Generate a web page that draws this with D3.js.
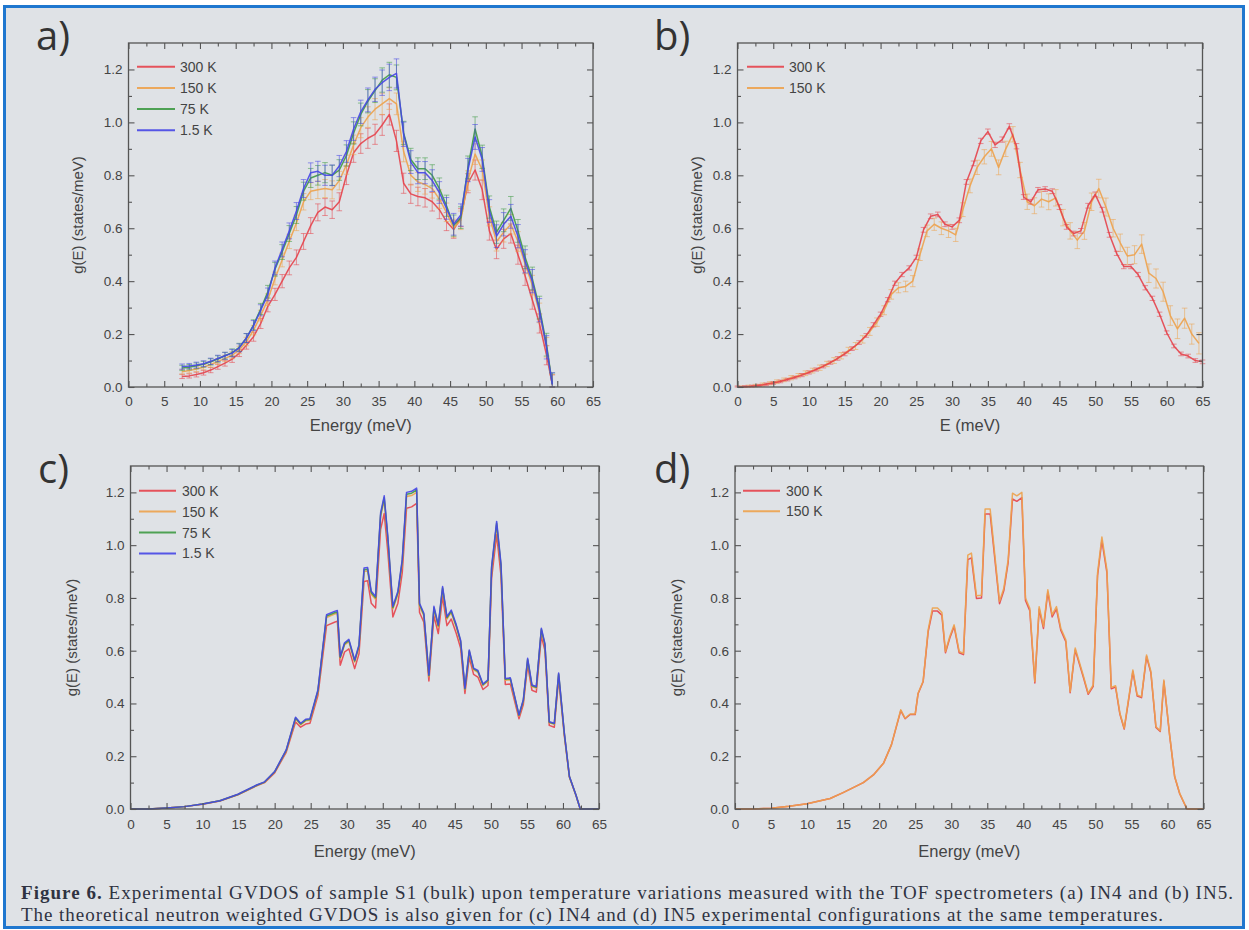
<!DOCTYPE html>
<html><head><meta charset="utf-8">
<script src="https://cdn.jsdelivr.net/npm/d3@7"></script>
<style>html,body{margin:0;padding:0;background:#fff;} svg{display:block;}</style>
</head><body>
<svg id="fig" width="1249" height="930"></svg>
<script>
// ================= DATA =================
const xTickValues = [0,5,10,15,20,25,30,35,40,45,50,55,60,65];
const xMinorTicks = [2.5,7.5,12.5,17.5,22.5,27.5,32.5,37.5,42.5,47.5,52.5,57.5,62.5];
const yTickValues = [0,0.2,0.4,0.6,0.8,1.0,1.2];
const yMinorTicks = [0.1,0.3,0.5,0.7,0.9,1.1];
const seriesNames4 = ["300 K","150 K","75 K","1.5 K"];
const seriesNames2 = ["300 K","150 K"];

// ---- (a) IN4 experimental ----
const aE = [7.5,8.5,9.5,10.5,11.5,12.5,13.5,14.5,15.5,16.5,
            17.5,18.5,19.5,20.5,21.5,22.5,23.5,24.5,25.5,26.5,
            27.5,28.5,29.5,30.5,31.5,32.5,33.5,34.5,35.5,36.5,
            37.5,38.5,39.5,40.5,41.5,42.5,43.5,44.5,45.5,46.5,
            47.5,48.5,49.5,50.5,51.5,52.5,53.5,54.5,55.5,56.5,
            57.5,58.5,59.3];
const a300 = [0.040,0.042,0.047,0.054,0.064,0.077,0.090,0.105,0.128,0.158,
              0.190,0.240,0.305,0.350,0.400,0.450,0.490,0.550,0.610,0.660,
              0.680,0.670,0.700,0.800,0.885,0.920,0.940,0.955,0.990,1.030,
              0.930,0.770,0.730,0.720,0.715,0.700,0.670,0.625,0.595,0.640,
              0.770,0.820,0.745,0.590,0.520,0.560,0.580,0.500,0.420,0.330,
              0.240,0.120,0.010];
const a150 = [0.058,0.062,0.068,0.075,0.085,0.096,0.108,0.120,0.140,0.172,
              0.215,0.270,0.330,0.410,0.480,0.550,0.620,0.700,0.740,0.745,
              0.750,0.745,0.780,0.840,0.915,0.980,1.020,1.050,1.070,1.090,
              1.070,0.890,0.800,0.775,0.765,0.750,0.710,0.660,0.600,0.630,
              0.780,0.880,0.820,0.645,0.550,0.585,0.615,0.550,0.465,0.385,
              0.280,0.150,0.010];
const a75 = [0.072,0.075,0.080,0.086,0.095,0.106,0.118,0.130,0.150,0.185,
             0.235,0.295,0.360,0.445,0.510,0.580,0.650,0.740,0.790,0.800,
             0.810,0.800,0.820,0.875,0.960,1.030,1.080,1.120,1.160,1.180,
             1.170,0.960,0.860,0.825,0.825,0.800,0.750,0.685,0.610,0.640,
             0.830,0.975,0.870,0.680,0.585,0.630,0.675,0.590,0.490,0.410,
             0.300,0.160,0.010];
const a1_5 = [0.077,0.079,0.083,0.088,0.097,0.108,0.118,0.128,0.148,0.185,
              0.232,0.290,0.350,0.450,0.520,0.590,0.665,0.750,0.810,0.815,
              0.800,0.800,0.835,0.890,0.975,1.040,1.085,1.125,1.150,1.170,
              1.185,0.955,0.850,0.810,0.810,0.780,0.735,0.675,0.615,0.650,
              0.820,0.945,0.860,0.665,0.570,0.615,0.645,0.570,0.475,0.400,
              0.290,0.150,0.010];
const aErr300 = [0.008,0.008,0.009,0.009,0.010,0.010,0.011,0.012,0.013,0.015,
                 0.017,0.019,0.021,0.023,0.025,0.026,0.028,0.030,0.030,0.032,
                 0.032,0.033,0.034,0.035,0.036,0.037,0.038,0.038,0.039,0.040,
                 0.040,0.038,0.036,0.035,0.035,0.035,0.034,0.034,0.033,0.034,
                 0.036,0.038,0.037,0.035,0.035,0.036,0.036,0.036,0.036,0.036,
                 0.036,0.036,0.036];
const aErr150 = [0.009,0.009,0.010,0.010,0.011,0.011,0.012,0.013,0.014,0.016,
                 0.018,0.020,0.022,0.024,0.026,0.027,0.029,0.031,0.032,0.033,
                 0.034,0.034,0.035,0.036,0.037,0.038,0.039,0.040,0.040,0.041,
                 0.041,0.039,0.037,0.036,0.036,0.036,0.035,0.035,0.034,0.035,
                 0.037,0.039,0.038,0.036,0.036,0.037,0.037,0.037,0.037,0.037,
                 0.037,0.037,0.037];
const aErr75 = [0.010,0.010,0.011,0.011,0.012,0.012,0.013,0.014,0.015,0.017,
                0.019,0.021,0.024,0.026,0.028,0.030,0.032,0.034,0.036,0.037,
                0.038,0.038,0.039,0.040,0.042,0.043,0.044,0.045,0.046,0.047,
                0.047,0.044,0.042,0.041,0.041,0.040,0.040,0.040,0.040,0.041,
                0.043,0.046,0.044,0.042,0.042,0.043,0.045,0.043,0.043,0.043,
                0.043,0.043,0.043];
const aErr1_5 = [0.010,0.010,0.011,0.011,0.012,0.012,0.013,0.014,0.015,0.017,
                 0.019,0.021,0.024,0.026,0.028,0.030,0.032,0.034,0.037,0.038,
                 0.038,0.039,0.040,0.041,0.043,0.044,0.045,0.046,0.048,0.050,
                 0.055,0.046,0.043,0.042,0.042,0.041,0.041,0.041,0.041,0.042,
                 0.044,0.047,0.045,0.043,0.043,0.044,0.045,0.044,0.044,0.044,
                 0.044,0.044,0.044];

// ---- (b) IN5 experimental ----
const bE300 = [0,1,2,3,4,5,6,7,8,9,10,11,12,13,14,15,16,17,18,19,
               20,21,22,23,24,25,26,27,28,29,30,31,32,33,34,35,36,37,38,39,
               40,41,42,43,44,45,46,47,48,49,50,51,52,53,54,55,56,57,58,59,
               60,61,62,63,64,65];
const b300 = [0.000,0.001,0.003,0.006,0.010,0.015,0.021,0.028,0.036,0.045,
              0.055,0.066,0.078,0.092,0.108,0.125,0.145,0.168,0.195,0.235,
              0.275,0.330,0.392,0.425,0.450,0.490,0.594,0.645,0.652,0.615,
              0.605,0.630,0.775,0.845,0.930,0.965,0.915,0.935,0.985,0.910,
              0.718,0.700,0.745,0.748,0.740,0.680,0.605,0.580,0.590,0.685,
              0.728,0.670,0.575,0.505,0.455,0.455,0.425,0.375,0.335,0.275,
              0.205,0.155,0.125,0.117,0.100,0.095];
const bErr300 = [0.004,0.004,0.004,0.004,0.005,0.005,0.005,0.005,0.005,0.006,
                 0.006,0.006,0.006,0.006,0.007,0.007,0.007,0.007,0.007,0.008,
                 0.008,0.008,0.008,0.008,0.008,0.008,0.009,0.009,0.009,0.009,
                 0.009,0.009,0.009,0.009,0.010,0.010,0.010,0.010,0.010,0.010,
                 0.009,0.009,0.009,0.009,0.009,0.009,0.009,0.009,0.009,0.009,
                 0.009,0.009,0.009,0.008,0.008,0.008,0.008,0.008,0.008,0.008,
                 0.007,0.007,0.007,0.007,0.007,0.007];
const bE150 = [0.5,1.5,2.5,3.5,4.5,5.5,6.5,7.5,8.5,9.5,
               10.5,11.5,12.5,13.5,14.5,15.5,16.5,17.5,18.5,19.5,
               20.5,21.5,22.5,23.5,24.5,25.5,26.5,27.5,28.5,29.5,
               30.5,31.5,32.5,33.5,34.5,35.5,36.5,37.5,38.5,39.5,
               40.5,41.5,42.5,43.5,44.5,45.5,46.5,47.5,48.5,49.5,
               50.5,51.5,52.5,53.5,54.5,55.5,56.5,57.5,58.5,59.5,
               60.5,61.5,62.5,63.5,64.5];
const b150 = [0.000,0.002,0.005,0.009,0.014,0.020,0.027,0.035,0.043,0.052,
              0.062,0.073,0.087,0.100,0.118,0.138,0.155,0.180,0.210,0.245,
              0.290,0.350,0.375,0.380,0.400,0.500,0.590,0.615,0.600,0.590,
              0.575,0.670,0.760,0.830,0.870,0.900,0.830,0.900,0.955,0.820,
              0.700,0.685,0.710,0.700,0.715,0.640,0.590,0.555,0.590,0.700,
              0.750,0.680,0.600,0.545,0.495,0.500,0.540,0.430,0.410,0.360,
              0.270,0.220,0.260,0.200,0.165];
const bErr150 = [0.004,0.005,0.005,0.006,0.006,0.007,0.007,0.008,0.008,0.009,
                 0.009,0.010,0.010,0.011,0.012,0.012,0.013,0.014,0.015,0.016,
                 0.017,0.018,0.019,0.020,0.021,0.022,0.022,0.023,0.024,0.025,
                 0.025,0.026,0.026,0.027,0.027,0.028,0.028,0.029,0.029,0.029,
                 0.029,0.030,0.030,0.030,0.031,0.031,0.031,0.032,0.032,0.033,
                 0.035,0.034,0.033,0.033,0.033,0.034,0.035,0.035,0.036,0.036,
                 0.037,0.037,0.038,0.038,0.040];

// ---- (c) IN4 theoretical ----
const cE = [0,2.5,5,7.5,10,12.4,14.9,17.5,18.6,20.0,
            21.6,22.9,23.6,24.3,24.9,26.0,27.2,28.3,28.7,29.1,
            29.7,30.3,31.1,31.7,32.4,32.9,33.4,34.0,34.7,35.2,
            35.7,36.4,37.1,37.7,38.3,39.0,39.7,40.1,40.7,41.4,
            42.1,42.7,43.3,43.9,44.5,45.2,45.8,46.4,47.0,47.6,
            48.2,48.9,49.6,50.1,50.8,51.4,52.0,52.7,53.9,54.5,
            55.1,55.7,56.3,57.0,57.5,58.1,58.8,59.4,60.2,60.9,
            61.8,62.4,65];
const c300 = [0,0,0.004,0.009,0.018,0.030,0.054,0.088,0.100,0.137,
              0.215,0.330,0.310,0.322,0.325,0.430,0.695,0.708,0.712,0.545,
              0.595,0.607,0.532,0.588,0.862,0.865,0.780,0.762,1.060,1.120,
              0.975,0.728,0.780,0.895,1.140,1.145,1.158,0.745,0.708,0.485,
              0.732,0.665,0.805,0.695,0.720,0.665,0.610,0.438,0.575,0.510,
              0.500,0.453,0.468,0.875,1.040,0.885,0.472,0.474,0.342,0.396,
              0.545,0.450,0.443,0.655,0.600,0.317,0.310,0.493,0.275,0.120,
              0.052,0,0];
const c150 = [0,0,0.004,0.009,0.019,0.031,0.055,0.089,0.101,0.140,
              0.220,0.342,0.319,0.334,0.336,0.443,0.726,0.739,0.742,0.570,
              0.622,0.634,0.557,0.614,0.900,0.902,0.814,0.795,1.107,1.171,
              1.019,0.758,0.814,0.932,1.184,1.188,1.200,0.770,0.732,0.501,
              0.758,0.689,0.832,0.720,0.744,0.689,0.632,0.452,0.595,0.527,
              0.518,0.468,0.484,0.907,1.076,0.918,0.488,0.490,0.352,0.408,
              0.563,0.464,0.458,0.676,0.619,0.327,0.321,0.508,0.282,0.121,
              0.052,0,0];
const c75 = [0,0,0.004,0.009,0.019,0.031,0.055,0.090,0.102,0.141,
             0.222,0.345,0.322,0.337,0.339,0.447,0.731,0.744,0.747,0.574,
             0.626,0.639,0.561,0.618,0.907,0.909,0.820,0.801,1.115,1.180,
             1.027,0.763,0.820,0.939,1.193,1.197,1.209,0.775,0.737,0.505,
             0.763,0.694,0.838,0.725,0.749,0.694,0.636,0.455,0.599,0.531,
             0.522,0.471,0.487,0.913,1.083,0.924,0.492,0.494,0.355,0.411,
             0.567,0.467,0.461,0.681,0.623,0.329,0.323,0.512,0.284,0.122,
             0.053,0,0];
const c1_5 = [0,0,0.004,0.009,0.019,0.031,0.056,0.091,0.103,0.142,
              0.224,0.348,0.325,0.340,0.342,0.451,0.736,0.749,0.752,0.578,
              0.630,0.643,0.565,0.622,0.913,0.915,0.825,0.806,1.122,1.187,
              1.033,0.768,0.825,0.945,1.200,1.204,1.216,0.780,0.742,0.508,
              0.768,0.698,0.843,0.729,0.754,0.698,0.640,0.458,0.603,0.534,
              0.525,0.474,0.490,0.919,1.090,0.930,0.495,0.497,0.357,0.414,
              0.571,0.470,0.464,0.685,0.627,0.331,0.325,0.515,0.286,0.123,
              0.053,0,0];

// ---- (d) IN5 theoretical ----
const dE = [0,2.5,5,7.5,10,13.2,15.0,17.8,19.2,20.6,
            21.7,23.0,23.6,24.3,25.0,25.4,26.1,26.8,27.4,28.1,
            28.7,29.2,29.8,30.4,31.1,31.7,32.3,32.8,33.5,34.2,
            34.7,35.4,36.7,37.3,37.9,38.5,39.1,39.8,40.3,40.9,
            41.6,42.2,42.8,43.4,44.0,44.6,45.2,45.9,46.5,47.2,
            48.3,49.0,49.7,50.3,50.9,51.6,52.2,52.8,53.4,54.0,
            55.2,55.8,56.4,57.1,57.7,58.4,59.0,59.5,60.3,61.0,
            61.7,62.7,65];
const d300 = [0,0,0.003,0.010,0.020,0.040,0.062,0.100,0.129,0.173,
              0.243,0.373,0.342,0.358,0.358,0.437,0.482,0.672,0.750,0.750,
              0.735,0.592,0.648,0.692,0.592,0.585,0.945,0.952,0.798,0.800,
              1.118,1.118,0.778,0.828,0.935,1.175,1.166,1.180,0.790,0.752,
              0.478,0.758,0.684,0.822,0.728,0.758,0.678,0.634,0.441,0.603,
              0.502,0.435,0.465,0.884,1.018,0.896,0.456,0.462,0.360,0.303,
              0.521,0.428,0.422,0.578,0.516,0.309,0.294,0.484,0.279,0.122,
              0.058,0,0];
const d150 = [0,0,0.003,0.010,0.020,0.040,0.062,0.100,0.129,0.173,
              0.243,0.376,0.344,0.360,0.360,0.439,0.484,0.679,0.762,0.762,
              0.745,0.597,0.654,0.698,0.597,0.590,0.962,0.970,0.808,0.810,
              1.137,1.137,0.787,0.837,0.945,1.197,1.187,1.200,0.800,0.761,
              0.483,0.767,0.692,0.831,0.736,0.767,0.685,0.641,0.445,0.610,
              0.508,0.439,0.470,0.894,1.031,0.906,0.461,0.467,0.363,0.306,
              0.527,0.432,0.426,0.584,0.521,0.312,0.297,0.489,0.281,0.123,
              0.059,0,0];

const captionLine1Bold = "Figure 6.";
const captionLine1 = " Experimental GVDOS of sample S1 (bulk) upon temperature variations measured with the TOF spectrometers (a) IN4 and (b) IN5.";
const captionLine2 = "The theoretical neutron weighted GVDOS is also given for (c) IN4 and (d) IN5 experimental configurations at the same temperatures.";

// ================= STYLE =================
const COL = {"300 K":"#e6434b","150 K":"#eda24c","75 K":"#3e9a44","1.5 K":"#4646e6"};
const BG = "#dfe2e6";
const INK = "#444";
const SANS = "'Liberation Sans', Arial, sans-serif";
const SERIF = "'Liberation Serif', 'DejaVu Serif', serif";

const svg = d3.select("#fig");
svg.append("rect").attr("x",0).attr("y",0).attr("width",1249).attr("height",930).attr("fill","#fff");
svg.append("rect").attr("x",4.5).attr("y",6.5).attr("width",1239).attr("height",921)
  .attr("fill",BG).attr("stroke","#1f77cf").attr("stroke-width",3);

function mk(E, v, err){ return E.map((e,i)=>({e:e, v:v[i], err: err ? err[i] : null})); }

const panels = [
  {l:128.5, r:593, t:43, b:387, label:"a)", lx:36, ly:50, xTitle:"Energy (meV)", xty:431, ytx:77,
   leg:{x1:137, x2:175, tx:180, y0:66.7, dy:21.2}, pad:9,
   series:[
     {name:"300 K", data:mk(aE,a300,aErr300)},
     {name:"150 K", data:mk(aE,a150,aErr150)},
     {name:"75 K",  data:mk(aE,a75,aErr75)},
     {name:"1.5 K", data:mk(aE,a1_5,aErr1_5)}], legNames: seriesNames4},
  {l:737.5, r:1202.5, t:43, b:387, label:"b)", lx:654, ly:50, xTitle:"E (meV)", xty:431, ytx:696,
   leg:{x1:747, x2:784, tx:789, y0:66.7, dy:21.2}, pad:9,
   series:[
     {name:"150 K", data:mk(bE150,b150,bErr150)},
     {name:"300 K", data:mk(bE300,b300,bErr300)}], legNames: seriesNames2},
  {l:130.5, r:599, t:466, b:809, label:"c)", lx:38, ly:483, xTitle:"Energy (meV)", xty:857, ytx:71,
   leg:{x1:139, x2:176, tx:182, y0:490.7, dy:20.9}, pad:10,
   series:[
     {name:"300 K", data:mk(cE,c300)},
     {name:"150 K", data:mk(cE,c150)},
     {name:"75 K",  data:mk(cE,c75)},
     {name:"1.5 K", data:mk(cE,c1_5)}], legNames: seriesNames4},
  {l:735, r:1203.5, t:466, b:809, label:"d)", lx:654, ly:483, xTitle:"Energy (meV)", xty:857, ytx:676,
   leg:{x1:743, x2:780, tx:786, y0:490.7, dy:20.6}, pad:10,
   series:[
     {name:"300 K", data:mk(dE,d300)},
     {name:"150 K", data:mk(dE,d150)}], legNames: seriesNames2}
];

panels.forEach(p => {
  const x = d3.scaleLinear().domain([0,65]).range([p.l, p.r]);
  const y = d3.scaleLinear().domain([0,1.3]).range([p.b, p.t]);
  const g = svg.append("g");

  p.series.forEach(s => {
    const c = COL[s.name];
    const hasErr = s.data[0].err !== null;
    if (hasErr) {
      const eg = g.append("g").attr("stroke", c).attr("stroke-opacity", 0.55).attr("stroke-width", 1);
      eg.selectAll("path").data(s.data).join("path")
        .attr("d", d => {
          const xx = x(d.e), y1 = y(Math.max(0,d.v - d.err)), y2 = y(d.v + d.err);
          return `M${xx},${y1}V${y2}M${xx-2.8},${y1}H${xx+2.8}M${xx-2.8},${y2}H${xx+2.8}`;
        });
    }
    g.append("path").datum(s.data)
      .attr("fill","none").attr("stroke", c).attr("stroke-width", 1.5)
      .attr("stroke-opacity", 0.9).attr("stroke-linejoin","round")
      .attr("d", d3.line().x(d=>x(d.e)).y(d=>y(d.v)));
  });

  g.append("rect").attr("x",p.l).attr("y",p.t).attr("width",p.r-p.l).attr("height",p.b-p.t)
    .attr("fill","none").attr("stroke","#555").attr("stroke-width",1.3);

  const ax = (gen, tr) => {
    const a = g.append("g").attr("transform", tr).call(gen);
    a.select(".domain").remove();
    a.selectAll(".tick line").attr("stroke","#555").attr("stroke-width",1.1);
    a.selectAll(".tick text").attr("fill",INK).attr("font-family",SANS).attr("font-size",13.5);
    return a;
  };
  ax(d3.axisBottom(x).tickValues(xTickValues).tickSize(-6).tickPadding(p.pad).tickFormat(d3.format("d")), `translate(0,${p.b})`);
  ax(d3.axisBottom(x).tickValues(xMinorTicks).tickSize(-3.5).tickFormat(""), `translate(0,${p.b})`);
  ax(d3.axisTop(x).tickValues(xTickValues).tickSize(-6).tickFormat(""), `translate(0,${p.t})`);
  ax(d3.axisTop(x).tickValues(xMinorTicks).tickSize(-3.5).tickFormat(""), `translate(0,${p.t})`);
  ax(d3.axisLeft(y).tickValues(yTickValues).tickSize(-6).tickPadding(6).tickFormat(d3.format(".1f")), `translate(${p.l},0)`);
  ax(d3.axisLeft(y).tickValues(yMinorTicks).tickSize(-3.5).tickFormat(""), `translate(${p.l},0)`);
  ax(d3.axisRight(y).tickValues(yTickValues).tickSize(-6).tickFormat(""), `translate(${p.r},0)`);
  ax(d3.axisRight(y).tickValues(yMinorTicks).tickSize(-3.5).tickFormat(""), `translate(${p.r},0)`);

  g.append("text").attr("x",(p.l+p.r)/2).attr("y",p.xty).attr("text-anchor","middle")
    .attr("font-family",SANS).attr("font-size",16.5).attr("fill",INK).text(p.xTitle);
  g.append("text").attr("transform",`translate(${p.ytx},${(p.t+p.b)/2}) rotate(-90)`)
    .attr("text-anchor","middle").attr("dominant-baseline","central")
    .attr("font-family",SANS).attr("font-size",15).attr("fill",INK).text("g(E) (states/meV)");
  g.append("text").attr("x",p.lx).attr("y",p.ly)
    .attr("font-family","'Open Sans', 'Liberation Sans', sans-serif").attr("font-size",40).attr("fill","#333").text(p.label);

  const lg = g.append("g");
  p.legNames.forEach((n,i) => {
    const yy = p.leg.y0 + i*p.leg.dy;
    lg.append("line").attr("x1",p.leg.x1).attr("x2",p.leg.x2).attr("y1",yy).attr("y2",yy)
      .attr("stroke",COL[n]).attr("stroke-width",2).attr("stroke-opacity",0.9);
    lg.append("text").attr("x",p.leg.tx).attr("y",yy).attr("dominant-baseline","central")
      .attr("font-family",SANS).attr("font-size",14).attr("fill",INK).text(n);
  });
});

// caption
const cap1 = svg.append("text").attr("x",21).attr("y",899)
  .attr("font-family",SERIF).attr("font-size",19).attr("fill","#2f3342")
  .attr("textLength",1212).attr("lengthAdjust","spacing");
cap1.append("tspan").attr("font-weight","bold").text(captionLine1Bold);
cap1.append("tspan").text(captionLine1);
svg.append("text").attr("x",21).attr("y",921)
  .attr("font-family",SERIF).attr("font-size",19).attr("fill","#2f3342")
  .attr("textLength",1142).attr("lengthAdjust","spacing").text(captionLine2);
</script>
</body></html>
